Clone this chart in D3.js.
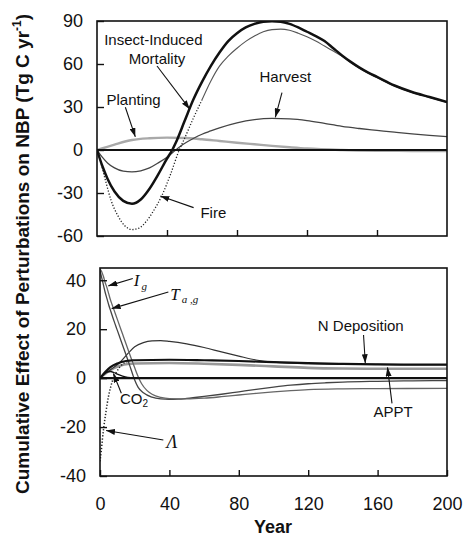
<!DOCTYPE html>
<html>
<head>
<meta charset="utf-8">
<script src="https://cdn.jsdelivr.net/npm/d3@7"></script>
<style>
  body { margin: 0; background: #fff; }
  svg { display: block; }
  text { font-family: "Liberation Sans", Arial, Helvetica, sans-serif; fill: #111; }
  .serif { font-family: "Liberation Serif", "Times New Roman", serif; font-style: italic; }
</style>
</head>
<body>
<svg id="chart" width="469" height="544"></svg>
<script>
// ---- Upper panel: disturbance perturbations (Tg C / yr) ----
const insectYears = [0,3,6,10,15,20,25,30,35,40,43,45,50,55,60,65,70,75,80,85,90,95,100,105,110,115,120,125,130,135,140,145,150,155,160,170,180,190,200];
const insectNBP   = [0,-11,-20,-29,-35.5,-37.5,-34.5,-27,-17,-6,0,5,20,35,47.5,58.5,68,76,81.5,85.5,88,89.5,89.8,89.5,88,85.5,82.5,79.5,76,71,66,61.5,57.5,54,51,45,40.5,37,33.5];

const fireYears = [0,2,5,8,12,16,20,24,28,32,37,42,47,50,55,60,65,70,75,80,85,90,95,100,105,110,115,120,125,130,135,140,145,150,155,160,170,180,190,200];
const fireNBP   = [0,-8,-22,-35,-46,-53,-55.5,-54.5,-50,-43,-32,-17,0,8,22,35,48,58.5,65.5,71,75.8,79.5,82.5,84,84.3,83.5,81.5,79,76,72.5,69,65.5,61,57,53.5,50.5,44.6,40.1,36.7,33.2];

const harvestYears = [0,3,6,10,15,20,25,30,35,40,45,50,55,60,65,70,80,90,100,110,120,130,140,150,160,170,180,190,200];
const harvestNBP   = [0,-5,-9,-12.5,-14.8,-15.3,-14.5,-12.5,-9,-5,0,4.5,8,11,13.3,15.5,19,21.2,22,21.7,20.5,18.5,16.5,15,13.7,12.4,11.2,10.2,9.3];

const plantingYears = [0,10,20,30,40,50,60,70,80,90,100,110,120,140,160,180,200];
const plantingNBP   = [0,3.8,7,8.2,8.6,8.4,7.5,6.3,5.1,4,2.9,1.9,1,0,-0.5,-0.7,-0.8];

// ---- Lower panel: climate, CO2 and N perturbations ----
const igYears = [0,1,2,3,4,5,6,8,10,12,14,16,18,19,20,22,25,30,35,40,45,50,60,70,80,90,100,110,120,130,140,160,180,200];
const igNBP   = [44,41,38,35,32.5,30,27.8,23.5,19.5,15.5,11.5,7.5,3.3,1.2,-0.8,-3.8,-6,-7.8,-8.5,-8.7,-8.6,-8.3,-7.5,-6.6,-5.6,-4.6,-3.7,-2.9,-2.3,-1.9,-1.6,-1.3,-1.1,-1];

const tagYears = [0,1,2,3,4,5,6,7,8,10,12,14,16,18,20,22,24,27,30,35,40,50,60,70,80,90,100,110,120,140,160,200];
const tagNBP   = [44.5,43.5,41.5,39,37,34.5,32,30,28,24,20,16,12,8,4.2,0.6,-2.3,-5,-6.6,-7.9,-8.4,-8.5,-8.2,-7.6,-6.9,-6.2,-5.6,-5.1,-4.7,-4.4,-4.3,-4.2];

const nDepYears = [0,3,6,10,15,20,40,60,80,100,120,140,160,200];
const nDepNBP   = [0,2.5,4.5,6,7,7.3,7.5,7.3,7,6.5,6.1,5.8,5.6,5.5];

const apptYears = [0,4,8,12,16,20,40,60,80,100,120,140,160,200];
const apptNBP   = [0,2.3,4.1,5.2,5.8,6,6.2,5.9,5.4,4.8,4.2,3.9,3.8,3.8];

// unlabelled response with an early hump
const humpYears = [0,4,8,12,16,20,25,30,35,40,50,60,70,80,90,100,110,120,140,160,200];
const humpNBP   = [0,2.4,4.4,6.8,10,12.8,14.5,15.2,15.3,15,14,12.5,10.7,9,7.4,6.5,6.1,5.9,5.7,5.6,5.5];

const co2Years = [0,2,4,6,8,10,13,16,20,30,200];
const co2NBP   = [0,1.6,2.5,2.7,2.3,1.6,0.8,0.3,0.1,0,0];

const lambdaYears = [0,0.7,1.4,2.2,3.5,4.8,6.2,7.7,9.6,11.5,14,17,20];
const lambdaNBP   = [-34,-30,-25,-20,-13.5,-7.8,-3.5,0,2.6,4.6,6.2,7,7.3];

// ---- Axis ticks ----
const yearTicks = [0,40,80,120,160,200];
const topYTicks = [-60,-30,0,30,60,90];
const botYTicks = [-40,-20,0,20,40];

const svg = d3.select("#chart");

const topX = d3.scaleLinear().domain([0,200]).range([97,447]);
const topY = d3.scaleLinear().domain([-60,90]).range([236,21]);
const botX = d3.scaleLinear().domain([0,200]).range([100,447]);
const botY = d3.scaleLinear().domain([-40,45]).range([476,268]);

const zip = (xs, ys) => xs.map((x, i) => [x, ys[i]]);

// arrowhead
svg.append("defs").append("marker")
  .attr("id", "arrow").attr("viewBox", "0 0 9 6")
  .attr("refX", 9).attr("refY", 3)
  .attr("markerWidth", 9).attr("markerHeight", 6)
  .attr("markerUnits", "userSpaceOnUse").attr("orient", "auto")
  .append("path").attr("d", "M0,0 L9,3 L0,6 Z").attr("fill", "#111");

function panel(x, y, id) {
  const [x0, x1] = x.range();
  const [y0, y1] = y.range();
  svg.append("clipPath").attr("id", id)
    .append("rect").attr("x", x0).attr("y", y1).attr("width", x1 - x0).attr("height", y0 - y1);
  const g = svg.append("g");
  const plot = g.append("g").attr("clip-path", `url(#${id})`);
  const line = d3.line().x(d => x(d[0])).y(d => y(d[1])).curve(d3.curveMonotoneX);
  return { g, plot, line, x0, x1, y0, y1 };
}

function drawSeries(p, pts, style) {
  p.plot.append("path").attr("d", p.line(pts))
    .attr("fill", "none")
    .attr("stroke", style.color)
    .attr("stroke-width", style.width)
    .attr("stroke-dasharray", style.dash || null)
    .attr("stroke-linejoin", "round");
}

function arrow(p, x, y, from, to) {
  p.g.append("line")
    .attr("x1", x(from[0])).attr("y1", y(from[1]))
    .attr("x2", x(to[0])).attr("y2", y(to[1]))
    .attr("stroke", "#111").attr("stroke-width", 1.1)
    .attr("marker-end", "url(#arrow)");
}

function frameAndAxes(p, x, y, yTicks, xLabels) {
  p.g.append("rect").attr("x", p.x0).attr("y", p.y1)
    .attr("width", p.x1 - p.x0).attr("height", p.y0 - p.y1)
    .attr("fill", "none").attr("stroke", "#111").attr("stroke-width", 1.6);

  const ax = d3.axisBottom(x).tickValues(xLabels ? yearTicks : yearTicks.slice(1, -1))
    .tickSize(-6).tickPadding(21).tickFormat(xLabels ? (d => String(d)) : "");
  const gx = p.g.append("g").attr("transform", `translate(0,${p.y0})`).call(ax);
  gx.select(".domain").remove();
  gx.selectAll("line").attr("stroke", "#111").attr("stroke-width", 1.4);
  gx.selectAll("text").attr("font-size", 18).attr("fill", "#111");

  const ay = d3.axisLeft(y).tickValues(yTicks).tickSize(-7).tickPadding(14)
    .tickFormat(d => String(d));
  const gy = p.g.append("g").attr("transform", `translate(${p.x0},0)`).call(ay);
  gy.select(".domain").remove();
  gy.selectAll("line").attr("stroke", "#111").attr("stroke-width", 1.4);
  gy.selectAll("text").attr("font-size", 18).attr("fill", "#111");
}

function zeroLine(p, y) {
  p.plot.append("line").attr("x1", p.x0).attr("x2", p.x1)
    .attr("y1", y(0)).attr("y2", y(0))
    .attr("stroke", "#111").attr("stroke-width", 2.2);
}

function label(p, x, y, at, txt, size) {
  return p.g.append("text").attr("x", x(at[0])).attr("y", y(at[1]))
    .attr("text-anchor", "middle").attr("dy", "0.36em")
    .attr("font-size", size || 15).text(txt);
}

// ================= Upper panel =================
const up = panel(topX, topY, "clipTop");
const firePts = zip(fireYears, fireNBP);
drawSeries(up, zip(plantingYears, plantingNBP), { color: "#a9a9a9", width: 2.4 });
drawSeries(up, zip(harvestYears, harvestNBP), { color: "#444", width: 1.3 });
drawSeries(up, firePts.filter(d => d[0] <= 60), { color: "#222", width: 1.3, dash: "1.2,1.8" });
drawSeries(up, firePts.filter(d => d[0] >= 60), { color: "#555", width: 1.1 });
zeroLine(up, topY);
drawSeries(up, zip(insectYears, insectNBP), { color: "#111", width: 2.5 });
frameAndAxes(up, topX, topY, topYTicks, false);

label(up, topX, topY, [32.2, 77.2], "Insect-Induced");
label(up, topX, topY, [34.3, 64], "Mortality");
label(up, topX, topY, [20.9, 35.4], "Planting");
label(up, topX, topY, [66.5, -43.5], "Fire");
label(up, topX, topY, [107.6, 51.4], "Harvest");
arrow(up, topX, topY, [34.3, 58.6], [53, 28.5]);
arrow(up, topX, topY, [16.2, 29.8], [21.9, 9.2]);
arrow(up, topX, topY, [55.2, -40.2], [36.2, -32.1]);
arrow(up, topX, topY, [105.7, 40], [101.9, 22.8]);

// ================= Lower panel =================
const lo = panel(botX, botY, "clipBot");
drawSeries(lo, zip(apptYears, apptNBP), { color: "#999", width: 2.6 });
drawSeries(lo, zip(humpYears, humpNBP), { color: "#333", width: 1.2 });
drawSeries(lo, zip(igYears, igNBP), { color: "#444", width: 1.3 });
drawSeries(lo, zip(tagYears, tagNBP), { color: "#666", width: 1.3 });
zeroLine(lo, botY);
drawSeries(lo, zip(co2Years, co2NBP), { color: "#111", width: 1.3 });
drawSeries(lo, zip(nDepYears, nDepNBP), { color: "#111", width: 2.2 });
drawSeries(lo, zip(lambdaYears, lambdaNBP), { color: "#222", width: 1.5, dash: "1.3,1.8" });
frameAndAxes(lo, botX, botY, botYTicks, true);

// symbol labels
const ig = lo.g.append("text").attr("class", "serif")
  .attr("x", botX(19.5)).attr("y", botY(37.5)).attr("font-size", 17);
ig.append("tspan").text("I");
ig.append("tspan").attr("font-size", 11).attr("dy", 4).attr("dx", 2).text("g");

const tag = lo.g.append("text").attr("class", "serif")
  .attr("x", botX(40.5)).attr("y", botY(31.8)).attr("font-size", 17);
tag.append("tspan").text("T");
tag.append("tspan").attr("font-size", 11).attr("dy", 3).attr("dx", 2).text("a ,g");

const lam = lo.g.append("text").attr("class", "serif")
  .attr("x", botX(41.5)).attr("y", botY(-25.8)).attr("dy", "0.36em")
  .attr("text-anchor", "middle").attr("font-size", 18).text("\u039B");

const co2 = lo.g.append("text")
  .attr("x", botX(11.5)).attr("y", botY(-10.6)).attr("font-size", 15);
co2.append("tspan").text("CO");
co2.append("tspan").attr("font-size", 10).attr("dy", 3).text("2");

label(lo, botX, botY, [150.3, 21.6], "N Deposition");
label(lo, botX, botY, [169, -13.8], "APPT");

arrow(lo, botX, botY, [18.9, 40.7], [4.8, 37.7]);
arrow(lo, botX, botY, [39.4, 35.2], [6.7, 28.4]);
arrow(lo, botX, botY, [12.3, -6.2], [7.7, 1.9]);
arrow(lo, botX, botY, [36.5, -25.3], [3.5, -21.4]);
arrow(lo, botX, botY, [151.9, 17.6], [152.9, 6.1]);
arrow(lo, botX, botY, [168.3, -10.3], [165.7, 4.4]);

// ================= Shared titles =================
svg.append("text").attr("x", 273).attr("y", 533)
  .attr("text-anchor", "middle").attr("font-size", 18).attr("font-weight", "bold")
  .text("Year");

const yt = svg.append("text")
  .attr("transform", "translate(29,254) rotate(-90)")
  .attr("text-anchor", "middle").attr("font-size", 19).attr("font-weight", "bold");
yt.append("tspan").text("Cumulative Effect of Perturbations on NBP (Tg C yr");
yt.append("tspan").attr("font-size", 12).attr("dy", -8).text("-1");
yt.append("tspan").attr("dy", 8).text(")");
</script>
</body>
</html>
